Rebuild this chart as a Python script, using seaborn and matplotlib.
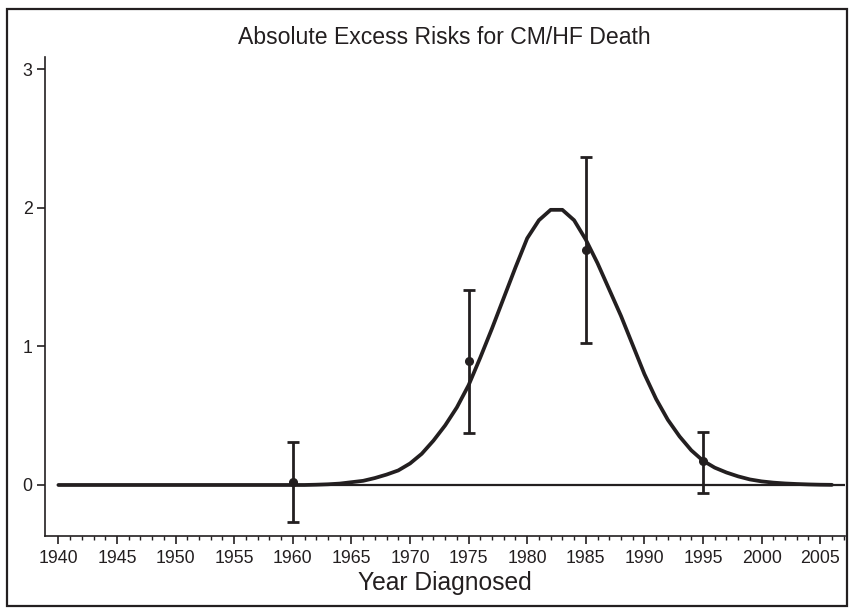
import numpy as np
import pandas as pd
import matplotlib
matplotlib.use('Agg')
import matplotlib.pyplot as plt
from matplotlib.patches import Rectangle
import seaborn as sns

# Fitted curve
curve_years = list(range(1940, 2007))
curve_risk = [0.0] * 22 + [
    0.002, 0.005, 0.01, 0.02, 0.03, 0.05, 0.075, 0.105, 0.155, 0.225,  # 1962-1971
    0.32, 0.43, 0.56, 0.72, 0.92, 1.13, 1.35, 1.57, 1.78, 1.91,        # 1972-1981
    1.985, 1.985, 1.91, 1.77, 1.60, 1.41, 1.22, 1.01, 0.80, 0.62,      # 1982-1991
    0.47, 0.35, 0.25, 0.175, 0.125, 0.09, 0.062, 0.04, 0.026, 0.017,   # 1992-2001
    0.011, 0.007, 0.004, 0.002, 0.001,                                 # 2002-2006
]

# Observed estimates with confidence intervals
obs_years = [1960, 1975, 1985, 1995]
obs_risk = [0.025, 0.895, 1.695, 0.173]
obs_lower = [-0.27, 0.377, 1.027, -0.056]
obs_upper = [0.31, 1.41, 2.364, 0.385]

x_ticks = list(range(1940, 2006, 5))
y_ticks = [0, 1, 2, 3]

ink = '#231f20'

sns.set_style('ticks')
plt.rcParams['font.family'] = ['Liberation Sans', 'DejaVu Sans']

fig = plt.figure(figsize=(8.53, 6.12), dpi=100)
ax = fig.add_axes([0.0528, 0.1242, 0.9379, 0.7832])

curve = pd.DataFrame({'year': curve_years, 'risk': curve_risk})

# Линия нуля
ax.hlines(0, curve_years[0], 2007.2, color=ink, linewidth=1.6, zorder=1)

sns.lineplot(data=curve, x='year', y='risk', ax=ax, color=ink,
             linewidth=2.7, zorder=2)

err = [np.array(obs_risk) - np.array(obs_lower),
       np.array(obs_upper) - np.array(obs_risk)]
ax.errorbar(obs_years, obs_risk, yerr=err, fmt='o', color=ink, ecolor=ink,
            markersize=5.5, elinewidth=2.0, capsize=4, capthick=2.0, zorder=3)

ax.set_xlim(1938.86, 2007.12)
ax.set_ylim(-0.368, 3.09)
ax.set_xticks(x_ticks)
ax.set_xticks(range(1940, 2008), minor=True)
ax.set_yticks(y_ticks)

for side in ['top', 'right']:
    ax.spines[side].set_visible(False)
for side in ['left', 'bottom']:
    ax.spines[side].set_linewidth(1.2)
    ax.spines[side].set_color(ink)

ax.tick_params(axis='x', which='major', length=6, width=1.2, color=ink,
               labelsize=12.8, pad=4, labelcolor=ink)
ax.tick_params(axis='x', which='minor', length=3, width=1.0, color=ink)
ax.tick_params(axis='y', which='major', length=6, width=1.2, color=ink,
               labelsize=12.8, pad=3, labelcolor=ink)

ax.set_xlabel('Year Diagnosed', fontsize=17.7, color=ink, labelpad=3)
ax.set_ylabel('')
fig.text(0.5205, 1 - 38 / 612, 'Absolute Excess Risks for CM/HF Death',
         fontsize=16.6, color=ink, ha='center', va='center')

# Рамка вокруг рисунка
fig.patches.append(Rectangle((0.0082, 0.0098), 0.985, 0.975,
                             transform=fig.transFigure, fill=False,
                             edgecolor=ink, linewidth=1.6))

fig.savefig('out.png', dpi=100)
plt.close(fig)
